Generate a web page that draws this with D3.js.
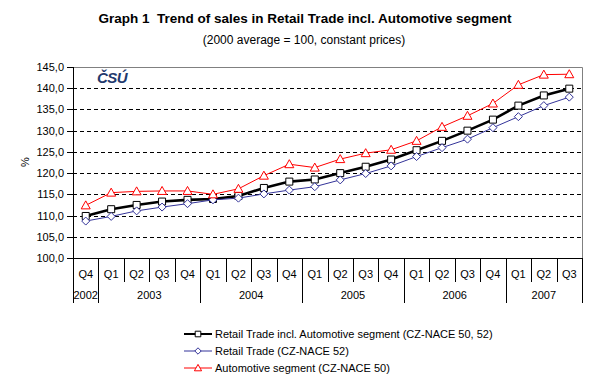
<!DOCTYPE html>
<html lang="en">
<head>
<meta charset="utf-8">
<title>Graph 1 Trend of sales in Retail Trade incl. Automotive segment</title>
<script src="https://d3js.org/d3.v7.min.js"></script>
<style>
  body { margin: 0; background: #fff; }
  text { font-family: "Liberation Sans", Arial, sans-serif; }
</style>
</head>
<body>
<script>
// quarters and years on the category axis
var quarters = ["Q4","Q1","Q2","Q3","Q4","Q1","Q2","Q3","Q4","Q1","Q2","Q3","Q4","Q1","Q2","Q3","Q4","Q1","Q2","Q3"];
var years = [
  {label: "2002", from: 0, to: 0},
  {label: "2003", from: 1, to: 4},
  {label: "2004", from: 5, to: 8},
  {label: "2005", from: 9, to: 12},
  {label: "2006", from: 13, to: 16},
  {label: "2007", from: 17, to: 19}
];
// indices, 2000 average = 100
var retailAuto = [109.9,111.5,112.5,113.3,113.7,113.9,114.6,116.5,118.0,118.5,120.0,121.5,123.2,125.4,127.6,130.0,132.6,135.9,138.3,139.9];
var retail     = [108.7,109.8,111.1,112.0,112.8,113.7,114.1,115.1,116.0,116.8,118.4,119.9,121.7,123.9,126.0,128.0,130.7,133.3,135.9,137.9];
var automotive = [112.4,115.4,115.7,115.8,115.8,115.0,116.3,119.4,122.1,121.3,123.3,124.7,125.5,127.6,130.9,133.5,136.4,140.8,143.2,143.3];
var yTicks = [100,105,110,115,120,125,130,135,140,145];

var width = 604, height = 381;
var plotLeft = 73, plotRight = 582, plotTop = 67, plotBottom = 258;

var svg = d3.select("body").append("svg")
    .attr("width", width)
    .attr("height", height);

// titles
svg.append("text")
    .attr("x", 305).attr("y", 23)
    .attr("text-anchor", "middle")
    .attr("font-size", 13.5).attr("font-weight", "bold")
    .style("white-space", "pre")
    .text("Graph 1  Trend of sales in Retail Trade incl. Automotive segment");
svg.append("text")
    .attr("x", 304).attr("y", 44)
    .attr("text-anchor", "middle")
    .attr("font-size", 12)
    .text("(2000 average = 100, constant prices)");

var x = d3.scaleBand()
    .domain(d3.range(quarters.length))
    .range([plotLeft, plotRight])
    .padding(0);

var y = d3.scaleLinear()
    .domain([100, 145])
    .range([plotBottom, plotTop]);

// gridlines
svg.append("g")
  .selectAll("line")
  .data(yTicks.filter(function(d) { return d > 100 && d < 145; }))
  .enter().append("line")
    .attr("x1", plotLeft).attr("x2", plotRight)
    .attr("y1", function(d) { return Math.round(y(d)) + 0.5; })
    .attr("y2", function(d) { return Math.round(y(d)) + 0.5; })
    .attr("stroke", "#000")
    .attr("stroke-dasharray", "4,3");

// plot border top and right
svg.append("path")
    .attr("d", "M" + plotLeft + "," + (plotTop + 0.5) + "H" + (plotRight + 0.5) + "V" + plotBottom)
    .attr("fill", "none")
    .attr("stroke", "#808080")
    .attr("stroke-width", 1);

// logo
svg.append("text")
    .attr("x", 97).attr("y", 83)
    .attr("font-size", 15).attr("font-weight", "bold").attr("font-style", "italic")
    .attr("fill", "#1f3a6e")
    .attr("letter-spacing", -0.5)
    .text("ČSÚ");

// y axis
var yAxis = d3.axisLeft(y)
    .tickValues(yTicks)
    .tickSize(6)
    .tickPadding(3)
    .tickFormat(function(d) { return d3.format(".1f")(d).replace(".", ","); });
var gy = svg.append("g")
    .attr("transform", "translate(" + plotLeft + ",0)")
    .call(yAxis);
gy.select(".domain").remove();
gy.selectAll("line").attr("stroke", "#000").attr("shape-rendering", "crispEdges");
gy.selectAll("text").attr("font-size", 11).attr("font-family", "Liberation Sans, Arial, sans-serif").attr("fill", "#000");

svg.append("line")
    .attr("x1", plotLeft + 0.5).attr("x2", plotLeft + 0.5)
    .attr("y1", plotTop).attr("y2", 303)
    .attr("stroke", "#000");

svg.append("text")
    .attr("transform", "translate(29,162) rotate(-90)")
    .attr("text-anchor", "middle")
    .attr("font-size", 11)
    .text("%");

// category axis
svg.append("line")
    .attr("x1", plotLeft).attr("x2", plotRight + 1)
    .attr("y1", plotBottom + 0.5).attr("y2", plotBottom + 0.5)
    .attr("stroke", "#000");

var catG = svg.append("g");
catG.selectAll("line.q")
  .data(d3.range(1, quarters.length + 1))
  .enter().append("line")
    .attr("class", "q")
    .attr("x1", function(i) { return Math.round(plotLeft + i * x.bandwidth()) + 0.5; })
    .attr("x2", function(i) { return Math.round(plotLeft + i * x.bandwidth()) + 0.5; })
    .attr("y1", plotBottom)
    .attr("y2", function(i) {
      var yearEnd = years.some(function(yy) { return yy.to + 1 === i; });
      return yearEnd ? 303 : 282;
    })
    .attr("stroke", "#000");

catG.selectAll("text.q")
  .data(quarters)
  .enter().append("text")
    .attr("class", "q")
    .attr("x", function(d, i) { return x(i) + x.bandwidth() / 2; })
    .attr("y", 278)
    .attr("text-anchor", "middle")
    .attr("font-size", 11)
    .text(function(d) { return d; });

catG.selectAll("text.yr")
  .data(years)
  .enter().append("text")
    .attr("class", "yr")
    .attr("x", function(d) { return (x(d.from) + x(d.to) + x.bandwidth()) / 2; })
    .attr("y", 299)
    .attr("text-anchor", "middle")
    .attr("font-size", 11)
    .text(function(d) { return d.label; });

// series
var series = [
  {name: "Retail Trade incl. Automotive segment (CZ-NACE 50, 52)", values: retailAuto, color: "#000", width: 2.6, marker: "square"},
  {name: "Retail Trade (CZ-NACE 52)", values: retail, color: "#333399", width: 1, marker: "diamond"},
  {name: "Automotive segment (CZ-NACE 50)", values: automotive, color: "#ff0000", width: 1, marker: "triangle"}
];

var cx = function(i) { return x(i) + x.bandwidth() / 2; };
var line = d3.line()
    .x(function(d, i) { return cx(i); })
    .y(function(d) { return y(d); });

function markerPath(type, k) {
  k = k || 1;
  if (type === "square") return "M" + (-3.5 * k) + "," + (-3.5 * k) + "h" + (7 * k) + "v" + (7 * k) + "h" + (-7 * k) + "Z";
  if (type === "diamond") return "M0," + (-4 * k) + "L" + (4 * k) + ",0L0," + (4 * k) + "L" + (-4 * k) + ",0Z";
  return "M0," + (-4.5 * k) + "L" + (4.5 * k) + "," + (3.5 * k) + "H" + (-4.5 * k) + "Z";
}

series.forEach(function(s) {
  var g = svg.append("g");
  g.append("path")
      .datum(s.values)
      .attr("d", line)
      .attr("fill", "none")
      .attr("stroke", s.color)
      .attr("stroke-width", s.width);
  g.selectAll("path.m")
    .data(s.values)
    .enter().append("path")
      .attr("class", "m")
      .attr("transform", function(d, i) { return "translate(" + cx(i) + "," + y(d) + ")"; })
      .attr("d", markerPath(s.marker))
      .attr("fill", "#fff")
      .attr("stroke", s.color)
      .attr("stroke-width", 1);
});

// legend
var legend = svg.append("g");
series.forEach(function(s, i) {
  var ly = 334 + i * 17;
  legend.append("line")
      .attr("x1", 184).attr("x2", 212)
      .attr("y1", ly).attr("y2", ly)
      .attr("stroke", s.color)
      .attr("stroke-width", s.width > 2 ? 2 : 1);
  legend.append("path")
      .attr("transform", "translate(198," + ly + ")")
      .attr("d", markerPath(s.marker, 0.8))
      .attr("fill", "#fff")
      .attr("stroke", s.color);
  legend.append("text")
      .attr("x", 215).attr("y", ly + 4)
      .attr("font-size", 11)
      .text(s.name);
});
</script>
</body>
</html>
